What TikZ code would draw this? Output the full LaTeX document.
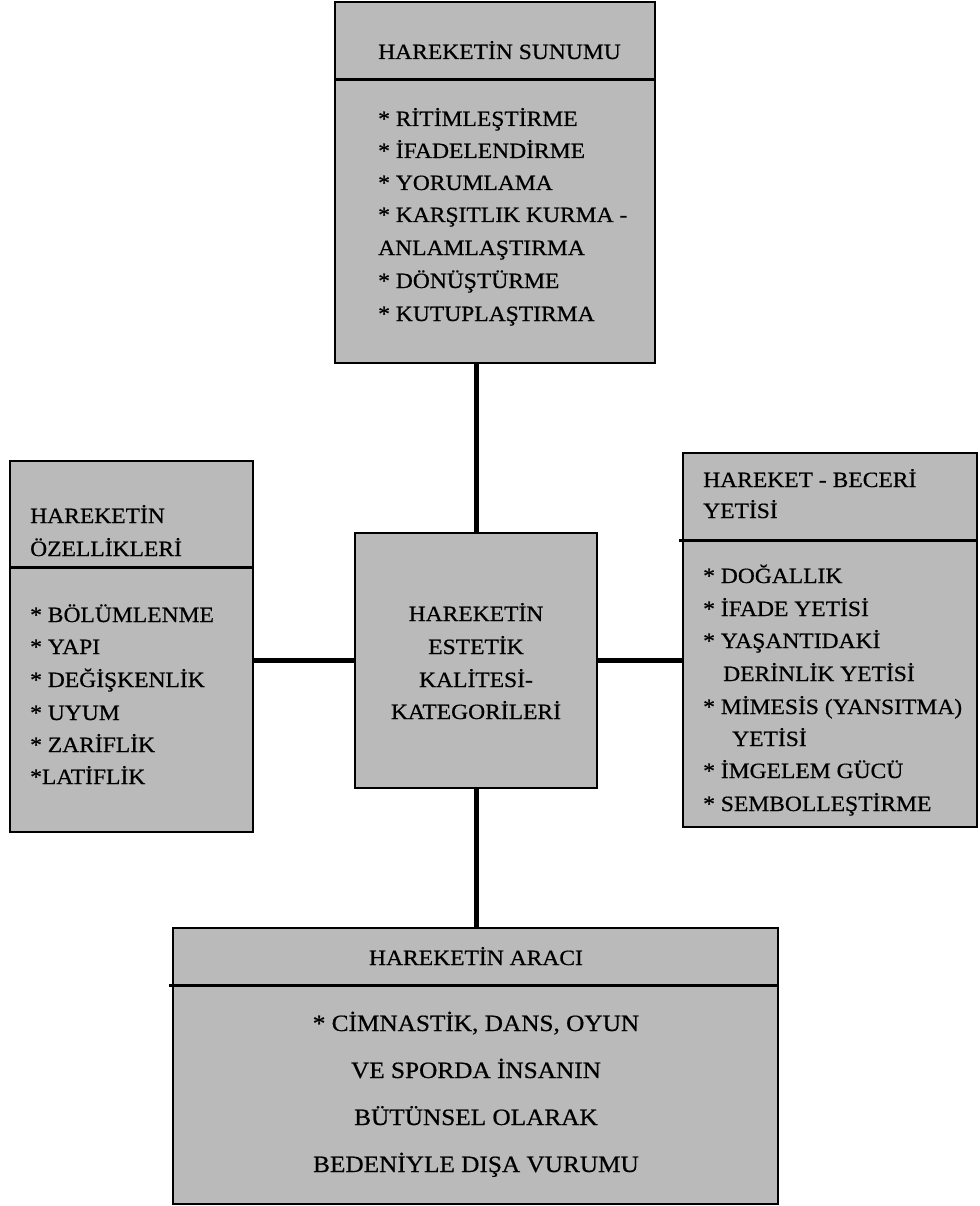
\documentclass[tikz,border=0pt]{standalone}
\usepackage{fontspec}
\setmainfont{Liberation Serif}[FakeStretch=1.08, FakeBold=0.6]
\definecolor{boxgray}{RGB}{186,186,186}
\begin{document}
\begin{tikzpicture}[x=1pt,y=-1pt,
  box/.style={draw=black, line width=2.8pt, fill=boxgray, inner sep=0pt, outer sep=0pt, anchor=north west},
  sepline/.style={draw=black, line width=3pt},
  conn/.style={draw=black, line width=5pt},
  txt/.style={anchor=base west, inner sep=0pt, font=\fontsize{21.8}{24}\selectfont},
  ctxt/.style={anchor=base, inner sep=0pt, font=\fontsize{21.8}{24}\selectfont},
  btxt/.style={anchor=base, inner sep=0pt, font=\fontsize{23.4}{26}\selectfont}]
\useasboundingbox (0,0) rectangle (979,1206);
% boxes
\node[box, minimum width=320pt, minimum height=361pt] (top) at (335,2) {};
\node[box, minimum width=243pt, minimum height=371pt] (left) at (10,461) {};
\node[box, minimum width=294pt, minimum height=374pt] (right) at (683,453) {};
\node[box, minimum width=242pt, minimum height=255pt] (center) at (355,533) {};
\node[box, minimum width=605pt, minimum height=276pt] (bottom) at (173,928) {};
% header separators
\coordinate (tsep) at (0,80);
\coordinate (lsep) at (0,567);
\coordinate (rsep) at (0,540);
\coordinate (bsep) at (0,985);
\draw[sepline] (top.west |- tsep) -- (top.east |- tsep);
\draw[sepline] (left.west |- lsep) -- (left.east |- lsep);
\draw[sepline] ([xshift=-4pt]right.west |- rsep) -- (right.east |- rsep);
\draw[sepline] ([xshift=-4pt]bottom.west |- bsep) -- (bottom.east |- bsep);
% connectors
\draw[conn] (top.south -| center.north) -- (center.north);
\draw[conn] (left.east |- center.west) -- (center.west);
\draw[conn] (center.east) -- (center.east -| right.west);
\draw[conn] (center.south) -- (center.south |- bottom.north);
% top box text
\node[txt] (t0) at (378,59) {HAREKETİN SUNUMU};
\node[txt] (t1) at (378,126) {* RİTİMLEŞTİRME};
\node[txt] (t2) at (378,158) {* İFADELENDİRME};
\node[txt] (t3) at (378,190) {* YORUMLAMA};
\node[txt] (t4) at (378,222) {* KARŞITLIK KURMA -};
\node[txt] (t5) at (378,255) {ANLAMLAŞTIRMA};
\node[txt] (t6) at (378,288) {* DÖNÜŞTÜRME};
\node[txt] (t7) at (378,321) {* KUTUPLAŞTIRMA};
% left box text
\node[txt] (l0) at (30,523) {HAREKETİN};
\node[txt] (l0b) at (30,556) {ÖZELLİKLERİ};
\node[txt] (l1) at (30,622) {* BÖLÜMLENME};
\node[txt] (l2) at (30,654) {* YAPI};
\node[txt] (l3) at (30,687) {* DEĞİŞKENLİK};
\node[txt] (l4) at (30,720) {* UYUM};
\node[txt] (l5) at (30,752) {* ZARİFLİK};
\node[txt] (l6) at (30,784) {*LATİFLİK};
% right box text
\node[txt] (r0) at (703,487) {HAREKET - BECERİ};
\node[txt] (r0b) at (703,518) {YETİSİ};
\node[txt] (r1) at (703,583) {* DOĞALLIK};
\node[txt] (r2) at (703,616) {* İFADE YETİSİ};
\node[txt] (r3) at (703,648) {* YAŞANTIDAKİ};
\node[txt] (r3b) at (723,681) {DERİNLİK YETİSİ};
\node[txt] (r4) at (703,714) {* MİMESİS (YANSITMA)};
\node[txt] (r4b) at (732,746) {YETİSİ};
\node[txt] (r5) at (703,778) {* İMGELEM GÜCÜ};
\node[txt] (r6) at (703,811) {* SEMBOLLEŞTİRME};
% center box text
\node[ctxt] (c1) at (476,621) {HAREKETİN};
\node[ctxt] (c2) at (476,654) {ESTETİK};
\node[ctxt] (c3) at (476,687) {KALİTESİ-};
\node[ctxt] (c4) at (476,719) {KATEGORİLERİ};
% bottom box text
\node[ctxt] (b0) at (476,965) {HAREKETİN ARACI};
\node[btxt] (b1) at (476,1031) {* CİMNASTİK, DANS, OYUN};
\node[btxt] (b2) at (476,1078) {VE SPORDA İNSANIN};
\node[btxt] (b3) at (476,1125) {BÜTÜNSEL OLARAK};
\node[btxt] (b4) at (476,1172) {BEDENİYLE DIŞA VURUMU};
\end{tikzpicture}
\end{document}
